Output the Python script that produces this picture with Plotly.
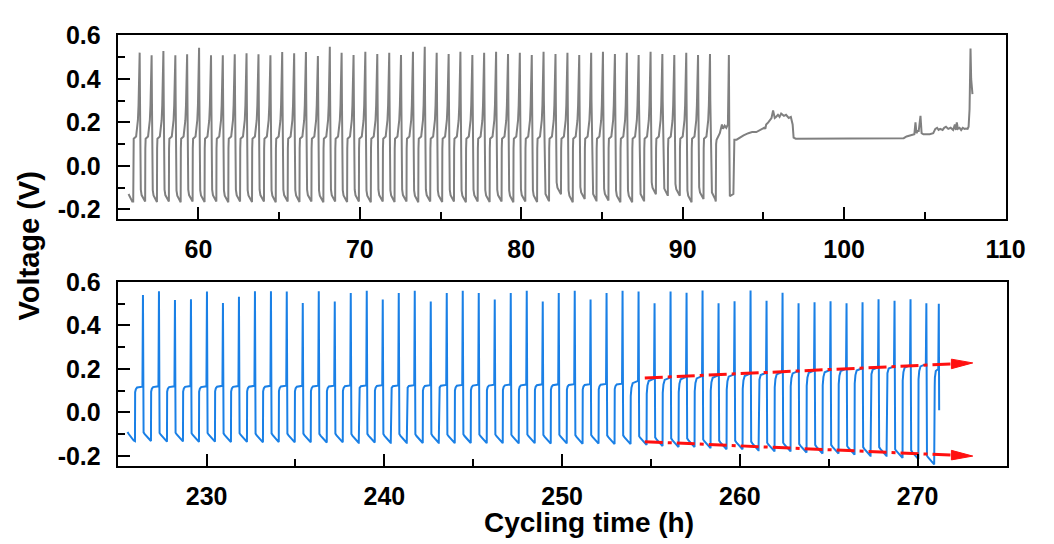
import plotly.graph_objects as go

# ---------------- top panel (grey) : regular cycles ----------------
grey_peak_t = [56.36, 57.10, 57.83, 58.57, 59.30, 60.04, 60.78, 61.51, 62.25, 62.98,
               63.72, 64.46, 65.19, 65.93, 66.66, 67.40, 68.14, 68.87, 69.61, 70.34,
               71.08, 71.82, 72.55, 73.29, 74.02, 74.76, 75.50, 76.23, 76.97, 77.70,
               78.44, 79.18, 79.91, 80.65, 81.38, 82.12, 82.86, 83.59, 84.33, 85.06,
               85.80, 86.54, 87.27, 88.01, 88.74, 89.48, 90.22, 90.95, 91.69]
grey_peak_v = [0.521, 0.509, 0.528, 0.509, 0.514, 0.543, 0.509, 0.509, 0.514, 0.518,
               0.514, 0.509, 0.524, 0.518, 0.524, 0.505, 0.548, 0.520, 0.510, 0.525,
               0.515, 0.520, 0.510, 0.525, 0.548, 0.520, 0.515, 0.525, 0.510, 0.520,
               0.525, 0.515, 0.520, 0.510, 0.525, 0.515, 0.520, 0.510, 0.520, 0.525,
               0.515, 0.520, 0.510, 0.525, 0.515, 0.510, 0.520, 0.510, 0.515]
grey_low_v = [-0.165, -0.167, -0.165, -0.168, -0.165, -0.167, -0.165, -0.168, -0.165, -0.167,
              -0.165, -0.168, -0.165, -0.167, -0.165, -0.168, -0.165, -0.167, -0.165, -0.168,
              -0.165, -0.167, -0.165, -0.168, -0.165, -0.167, -0.165, -0.168, -0.165, -0.167,
              -0.165, -0.168, -0.165, -0.167, -0.160, -0.131, -0.168, -0.153, -0.160, -0.160,
              -0.168, -0.168, -0.160, -0.131, -0.135, -0.138, -0.168, -0.153, -0.153]
grey_plateau_v = 0.13

# start of the grey trace (before first rise)
grey_head_t = [55.67, 55.90]
grey_head_v = [-0.13, -0.165]

# irregular end / failure region of the grey trace
grey_tail_t = [92.05, 92.07, 92.10, 92.30, 92.43, 92.50, 92.60, 92.70, 92.80, 92.84, 92.86,
               92.89, 92.92, 93.14, 93.17, 93.20, 93.34, 93.55, 93.77, 94.07, 94.30, 94.56,
               94.80, 95.05, 95.12, 95.17, 95.30, 95.40, 95.50, 95.60, 95.70, 95.78, 95.90,
               96.00, 96.10, 96.27, 96.40, 96.57, 96.70, 96.81, 96.87, 97.00, 100.0, 103.27,
               103.69, 103.87, 104.12, 104.35, 104.42, 104.48, 104.55, 104.62, 104.73, 104.80,
               104.91, 105.09, 105.30, 105.52, 105.65, 105.76, 105.85, 105.95, 106.10, 106.20,
               106.31, 106.45, 106.60, 106.75, 106.86, 106.92, 106.98, 107.05, 107.15, 107.25,
               107.35, 107.45, 107.55, 107.65, 107.71, 107.77, 107.80, 107.83, 107.87, 107.95]
grey_tail_v = [-0.165, 0.10, 0.12, 0.15, 0.19, 0.17, 0.185, 0.175, 0.19, 0.40, 0.51,
               0.10, -0.14, -0.13, 0.05, 0.12, 0.12, 0.13, 0.14, 0.15, 0.155, 0.155,
               0.165, 0.175, 0.17, 0.19, 0.20, 0.21, 0.22, 0.255, 0.22, 0.225, 0.235,
               0.225, 0.24, 0.23, 0.235, 0.22, 0.225, 0.19, 0.13, 0.125, 0.125, 0.125,
               0.127, 0.135, 0.14, 0.145, 0.20, 0.15, 0.16, 0.16, 0.23, 0.15,
               0.145, 0.145, 0.145, 0.15, 0.17, 0.175, 0.165, 0.17, 0.165, 0.175,
               0.18, 0.17, 0.175, 0.165, 0.19, 0.165, 0.20, 0.17, 0.175, 0.165,
               0.175, 0.17, 0.172, 0.17, 0.18, 0.26, 0.41, 0.54, 0.40, 0.33]

# ---------------- bottom panel (blue) : regular cycles ----------------
blue_spike_t = [226.42, 227.32, 228.22, 229.12, 230.02, 230.92, 231.82, 232.72, 233.62, 234.51,
                235.41, 236.31, 237.21, 238.11, 239.01, 239.91, 240.81, 241.71, 242.61, 243.51,
                244.41, 245.31, 246.21, 247.11, 248.01, 248.91, 249.81, 250.71, 251.60, 252.50,
                253.40, 254.30, 255.20, 256.10, 257.00, 257.90, 258.80, 259.70, 260.60, 261.50,
                262.40, 263.30, 264.20, 265.10, 266.00, 266.90, 267.80, 268.70, 269.60, 270.49]
blue_peak_v = [0.540, 0.558, 0.517, 0.521, 0.556, 0.504, 0.532, 0.558, 0.558, 0.556,
               0.504, 0.558, 0.510, 0.550, 0.560, 0.520, 0.550, 0.560, 0.510, 0.550,
               0.560, 0.550, 0.520, 0.550, 0.560, 0.510, 0.550, 0.560, 0.520, 0.550,
               0.560, 0.556, 0.502, 0.556, 0.551, 0.561, 0.502, 0.511, 0.561, 0.514,
               0.551, 0.502, 0.507, 0.511, 0.502, 0.507, 0.521, 0.514, 0.521, 0.502]
blue_low_v = [-0.132, -0.135, -0.134, -0.136, -0.135, -0.137, -0.136, -0.138, -0.137, -0.138,
              -0.138, -0.139, -0.138, -0.140, -0.139, -0.140, -0.140, -0.141, -0.140, -0.142,
              -0.141, -0.142, -0.142, -0.143, -0.142, -0.144, -0.143, -0.145, -0.144, -0.146,
              -0.146, -0.150, -0.155, -0.160, -0.160, -0.165, -0.170, -0.170, -0.175, -0.180,
              -0.180, -0.185, -0.190, -0.190, -0.195, -0.200, -0.200, -0.210, -0.215, -0.240]
blue_plateau_v = [0.118, 0.120, 0.120, 0.121, 0.120, 0.122, 0.121, 0.122, 0.122, 0.123,
                  0.122, 0.123, 0.123, 0.124, 0.124, 0.125, 0.124, 0.125, 0.125, 0.126,
                  0.126, 0.127, 0.127, 0.128, 0.128, 0.129, 0.129, 0.130, 0.130, 0.131,
                  0.132, 0.145, 0.155, 0.160, 0.163, 0.167, 0.170, 0.175, 0.178, 0.182,
                  0.185, 0.190, 0.192, 0.195, 0.200, 0.203, 0.207, 0.212, 0.217, 0.222]

blue_head_t = [225.55, 225.62, 225.90, 225.96]
blue_head_v = [-0.09, -0.10, -0.13, -0.133]
blue_tail_t = [270.96, 270.97, 271.02, 271.16, 271.19, 271.21]
blue_tail_v = [0.12, 0.16, 0.19, 0.20, 0.50, 0.01]

# ---------------- red trend arrows (bottom panel) ----------------
arrow_up_t = [254.65, 271.90]
arrow_up_v = [0.158, 0.223]
arrow_dn_t = [254.65, 271.90]
arrow_dn_v = [-0.135, -0.197]
arrow_tip_len = 1.2      # h
arrow_tip_half = 0.022   # V

# x/y tick values
top_xticks = [60, 70, 80, 90, 100, 110]
bot_xticks = [230, 240, 250, 260, 270]
yticks = [-0.2, 0.0, 0.2, 0.4, 0.6]


def grey_series():
    xs, ys = list(grey_head_t), list(grey_head_v)
    prev_low = grey_head_v[-1]
    for tp, pk, lo in zip(grey_peak_t, grey_peak_v, grey_low_v):
        pl = grey_plateau_v
        seg = [(-0.40, prev_low), (-0.39, 0.08), (-0.37, pl - 0.005), (-0.22, pl + 0.005),
               (-0.16, pl + 0.035), (-0.11, pl + 0.08), (-0.07, pl + 0.15), (-0.035, pl + 0.24),
               (-0.012, pk - 0.06), (0.0, pk), (0.02, 0.30), (0.07, lo + 0.055),
               (0.12, lo + 0.03), (0.32, lo)]
        for dt, v in seg:
            xs.append(tp + dt)
            ys.append(v)
        prev_low = lo
    xs += grey_tail_t
    ys += grey_tail_v
    return xs, ys


def blue_series():
    xs, ys = list(blue_head_t), list(blue_head_v)
    prev_low = blue_head_v[-1]
    for i, (ts, pk, lo, pl) in enumerate(zip(blue_spike_t, blue_peak_v, blue_low_v, blue_plateau_v)):
        sh = 0.025 if i < 31 else 0.07
        seg = [(-0.45, prev_low), (-0.44, pl - sh), (-0.40, pl - sh * 0.45),
               (-0.33, pl - sh * 0.15), (-0.03, pl), (0.0, pk), (0.035, lo + 0.04),
               (0.10, lo + 0.032), (0.36, lo + 0.004), (0.44, lo)]
        for dt, v in seg:
            xs.append(ts + dt)
            ys.append(v)
        prev_low = lo
    xs += blue_tail_t
    ys += blue_tail_v
    return xs, ys


gx, gy = grey_series()
bx, by = blue_series()

GREY = "#808080"
BLUE = "#1a80e6"
RED = "#ff1010"

fig = go.Figure()
fig.add_trace(go.Scatter(x=gx, y=gy, mode="lines", line=dict(color=GREY, width=2),
                         xaxis="x", yaxis="y", showlegend=False, hoverinfo="skip"))
fig.add_trace(go.Scatter(x=bx, y=by, mode="lines", line=dict(color=BLUE, width=2),
                         xaxis="x2", yaxis="y2", showlegend=False, hoverinfo="skip"))

for at, av in ((arrow_up_t, arrow_up_v), (arrow_dn_t, arrow_dn_v)):
    fig.add_trace(go.Scatter(x=at, y=av, mode="lines",
                             line=dict(color=RED, width=3, dash="18px,5px,4px,5px"),
                             xaxis="x2", yaxis="y2", showlegend=False, hoverinfo="skip"))
    tip_x = at[-1] + arrow_tip_len
    tip_y = av[-1] + (av[-1] - av[0]) / (at[-1] - at[0]) * arrow_tip_len
    fig.add_trace(go.Scatter(x=[at[-1], tip_x, at[-1], at[-1]],
                             y=[av[-1] + arrow_tip_half, tip_y, av[-1] - arrow_tip_half, av[-1] + arrow_tip_half],
                             mode="lines", fill="toself", fillcolor=RED, line=dict(color=RED, width=1),
                             xaxis="x2", yaxis="y2", showlegend=False, hoverinfo="skip"))

FONT = "Arial, Liberation Sans, sans-serif"
tickfont = dict(family=FONT, size=25, color="black", weight="bold")

common_x = dict(showgrid=False, zeroline=False, showline=True, mirror=True, linecolor="black",
                linewidth=2, ticks="inside", ticklen=12, tickwidth=2, tickcolor="black",
                tickfont=tickfont, ticklabelstandoff=7)
common_y = dict(showgrid=False, zeroline=False, showline=True, mirror=True, linecolor="black",
                linewidth=2, ticks="inside", ticklen=12, tickwidth=2, tickcolor="black",
                tickfont=tickfont, ticklabelstandoff=10, range=[-0.245, 0.601],
                tickvals=yticks, ticktext=["-0.2", "0.0", "0.2", "0.4", "0.6"],
                minor=dict(ticks="inside", ticklen=7, tickwidth=2, tickcolor="black",
                           tickvals=[-0.1, 0.1, 0.3, 0.5]))

fig.update_layout(
    width=1054, height=544,
    margin=dict(l=0, r=0, t=0, b=0),
    paper_bgcolor="white", plot_bgcolor="white",
    xaxis=dict(domain=[0.11385, 0.97249], range=[55, 110], anchor="y",
               tickvals=top_xticks,
               minor=dict(ticks="inside", ticklen=7, tickwidth=2, tickcolor="black",
                          tickvals=[65, 75, 85, 95, 105]), **common_x),
    yaxis=dict(domain=[0.61029, 0.95956], anchor="x", **common_y),
    xaxis2=dict(domain=[0.11385, 0.97343], range=[225, 275], anchor="y2",
                tickvals=bot_xticks,
                minor=dict(ticks="inside", ticklen=7, tickwidth=2, tickcolor="black",
                           tickvals=[235, 245, 255, 265]), **common_x),
    yaxis2=dict(domain=[0.14154, 0.49081], anchor="x2", **common_y),
    annotations=[
        dict(text="Voltage (V)", xref="paper", yref="paper", x=30 / 1054, y=1 - 240 / 544,
             textangle=-90, showarrow=False, xanchor="center", yanchor="middle",
             font=dict(family=FONT, size=29, color="black", weight="bold")),
        dict(text="Cycling time (h)", xref="paper", yref="paper", x=600 / 1054, y=0.0,
             showarrow=False, xanchor="center", yanchor="bottom",
             font=dict(family=FONT, size=28, color="black", weight="bold")),
    ],
)

fig.write_html("out.html")
